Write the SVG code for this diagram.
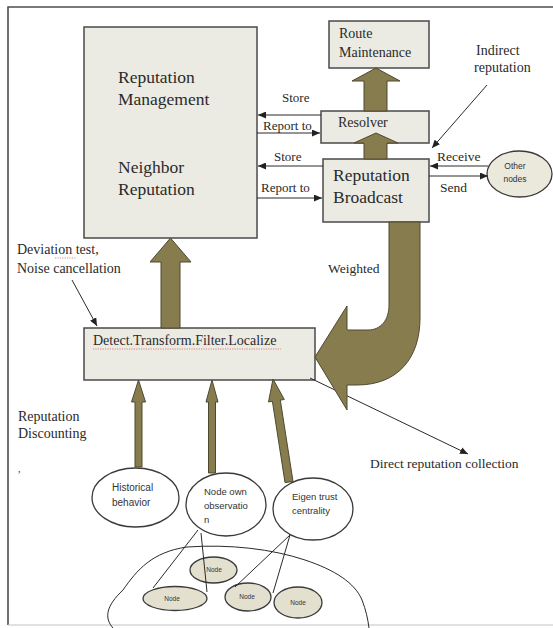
<svg xmlns="http://www.w3.org/2000/svg" width="553" height="628" viewBox="0 0 553 628">
<defs>
<marker id="ah" markerWidth="8" markerHeight="7" refX="8" refY="3.5" orient="auto" markerUnits="userSpaceOnUse">
<path d="M0,0 L8,3.5 L0,7 z" fill="#222"/>
</marker>
<style>
.box{fill:#ecebe3;stroke:#4a4a4a;stroke-width:1.5}
.ell{fill:#ffffff;stroke:#3a3a3a;stroke-width:1.3}
.nd{fill:#e4e0cf;stroke:#3a3a3a;stroke-width:1.3}
.big{fill:#877c4e;stroke:#4f4930;stroke-width:1}
.ln{fill:none;stroke:#2a2a2a;stroke-width:1}
.la{fill:none;stroke:#2a2a2a;stroke-width:1;marker-end:url(#ah)}
.t{font-family:"Liberation Serif","Times New Roman",serif;fill:#2a2a2a}
.s{font-family:"Liberation Sans",Arial,sans-serif;fill:#333}
.sq{fill:none;stroke:#d04040;stroke-width:0.8;stroke-dasharray:1.2,1.2;opacity:0.8}
</style>
</defs>
<rect width="553" height="628" fill="#ffffff"/>
<path d="M553,7 H8 V625" fill="none" stroke="#4d4d4d" stroke-width="1.6"/>
<path d="M8,625 H553" fill="none" stroke="#c4c4c4" stroke-width="1.2"/>

<g id="labels">
<text class="t" x="17" y="254" font-size="14">Deviation test,</text>
<path class="sq" d="M55,258 H76"/>
<text class="t" x="17" y="273" font-size="14">Noise cancellation</text>
<text class="t" x="18" y="421" font-size="14">Reputation</text>
<text class="t" x="18" y="438" font-size="14">Discounting</text>
<text class="t" x="18" y="472" font-size="10">,</text>
<text class="t" x="282" y="102" font-size="13">Store</text>
<text class="t" x="263" y="130" font-size="13">Report to</text>
<text class="t" x="274" y="161" font-size="13">Store</text>
<text class="t" x="261" y="192" font-size="13">Report to</text>
<text class="t" x="437" y="161" font-size="13.5">Receive</text>
<text class="t" x="440" y="192" font-size="13.5">Send</text>
<text class="t" x="476" y="55" font-size="14">Indirect</text>
<text class="t" x="474" y="72" font-size="14">reputation</text>
<text class="t" x="328" y="273" font-size="13.5">Weighted</text>
<text class="t" x="370" y="468" font-size="13.5">Direct reputation collection</text>
</g>

<g id="cloud">
<path class="ln" stroke-width="1.2" d="M113,628 C104,618 106,606 123,590 C137,570 152,552 187,547 C230,544 272,549 305,560 C335,570 355,583 362,600 C366,610 368,620 369,628"/>
</g>

<g id="reputation-management">
<rect class="box" x="84" y="27" width="173" height="211"/>
<text class="t" x="118" y="83" font-size="17.5">Reputation</text>
<text class="t" x="118" y="105" font-size="17.5">Management</text>
<text class="t" x="118" y="173" font-size="17.5">Neighbor</text>
<text class="t" x="118" y="195" font-size="17.5">Reputation</text>
</g>

<g id="route-maintenance">
<rect class="box" x="329" y="21" width="100" height="47"/>
<text class="t" x="339" y="38" font-size="14">Route</text>
<text class="t" x="339" y="57" font-size="14">Maintenance</text>
</g>

<g id="resolver">
<rect class="box" x="321" y="111" width="108" height="32"/>
<text class="t" x="338" y="127" font-size="14">Resolver</text>
</g>

<g id="reputation-broadcast">
<rect class="box" x="323" y="159" width="106" height="63"/>
<text class="t" x="333" y="181" font-size="17.5">Reputation</text>
<text class="t" x="333" y="203" font-size="17.5">Broadcast</text>
</g>

<g id="other-nodes">
<ellipse class="nd" cx="519.5" cy="174" rx="32.5" ry="23" style="fill:#ebe8dc"/>
<text class="s" x="515" y="169" font-size="8.5" text-anchor="middle">Other</text>
<text class="s" x="515" y="182" font-size="8.5" text-anchor="middle">nodes</text>
</g>

<g id="detect">
<rect class="box" x="84" y="328" width="231" height="52"/>
<text class="t" x="93" y="345" font-size="14">Detect.Transform.Filter.Localize</text>
<path class="sq" d="M93,349 H281"/>
</g>

<g id="historical-behavior">
<ellipse class="ell" cx="135.5" cy="497.5" rx="43.5" ry="29.5"/>
<text class="s" x="112" y="491" font-size="10">Historical</text>
<text class="s" x="112" y="506" font-size="10">behavior</text>
</g>

<g id="node-own-observation">
<ellipse class="ell" cx="226" cy="504.5" rx="40" ry="31.5"/>
<text class="s" x="204" y="495" font-size="9.5">Node own</text>
<text class="s" x="204" y="509" font-size="9.5">observatio</text>
<text class="s" x="204" y="523" font-size="9.5">n</text>
</g>

<g id="eigen-trust">
<ellipse class="ell" cx="313" cy="509" rx="40" ry="31"/>
<text class="s" x="292" y="500" font-size="9.5">Eigen trust</text>
<text class="s" x="292" y="514" font-size="9.5">centrality</text>
</g>

<g id="node-1">
<ellipse class="nd" cx="213.5" cy="570" rx="23.5" ry="13"/>
<text class="s" x="214" y="572" font-size="6.5" text-anchor="middle">Node</text>
</g>
<g id="node-2">
<ellipse class="nd" cx="175" cy="598.5" rx="32" ry="12"/>
<text class="s" x="172" y="601" font-size="6.5" text-anchor="middle">Node</text>
</g>
<g id="node-3">
<ellipse class="nd" cx="248" cy="597" rx="23" ry="14"/>
<text class="s" x="247" y="599" font-size="6.5" text-anchor="middle">Node</text>
</g>
<g id="node-4">
<ellipse class="nd" cx="298" cy="602.5" rx="24" ry="15.5"/>
<text class="s" x="298" y="605" font-size="6.5" text-anchor="middle">Node</text>
</g>

<g id="connectors">
<!-- thin arrows -->
<line class="la" x1="321" y1="115" x2="258" y2="115"/>
<line class="la" x1="257" y1="133" x2="320" y2="133"/>
<line class="la" x1="323" y1="166" x2="258" y2="166"/>
<line class="la" x1="257" y1="198" x2="322" y2="198"/>
<line class="la" x1="488" y1="166" x2="430" y2="166"/>
<line class="la" x1="429" y1="176" x2="488" y2="176"/>
<line class="la" x1="487" y1="85" x2="432" y2="148"/>
<line class="la" x1="72" y1="280" x2="97" y2="326"/>
<line class="la" x1="310" y1="378" x2="468" y2="454"/>
<!-- node links -->
<line class="ln" x1="198" y1="530" x2="153" y2="588"/>
<line class="ln" x1="201" y1="533" x2="207" y2="592"/>
<line class="ln" x1="290" y1="535" x2="235" y2="587"/>
<line class="ln" x1="290" y1="535" x2="273" y2="593"/>
<!-- big arrows -->
<path class="big" d="M364,111 L364,81 L352,81 L376,68 L400,81 L387,81 L387,111 Z"/>
<path class="big" d="M364,159 L364,143 L354,143 L376,133 L398,143 L387,143 L387,159 Z"/>
<path class="big" d="M161,328 L161,262 L150,262 L170.5,238 L191,262 L180,262 L180,328 Z"/>
<path class="big" d="M389,222 L420,222 L420,318 C420,358 398,385 357,385 L347,385 L347,410 L315,357 L347,306 L347,330 L368,330 C381,330 389,320 389,305 Z"/>
<path class="big" d="M135,467 L135,402 L131.5,402 L138.5,380 L145.5,402 L142,402 L142,467 Z"/>
<path class="big" d="M208.5,473 L208.5,402 L206,402 L212,380 L218,402 L215.5,402 L215.5,473 Z"/>
<path class="big" d="M273,379 L284.3,399.5 L280.3,400.1 L293,481.4 L285,482.6 L272.4,401.3 L268.5,402 Z"/>
</g>
</svg>
